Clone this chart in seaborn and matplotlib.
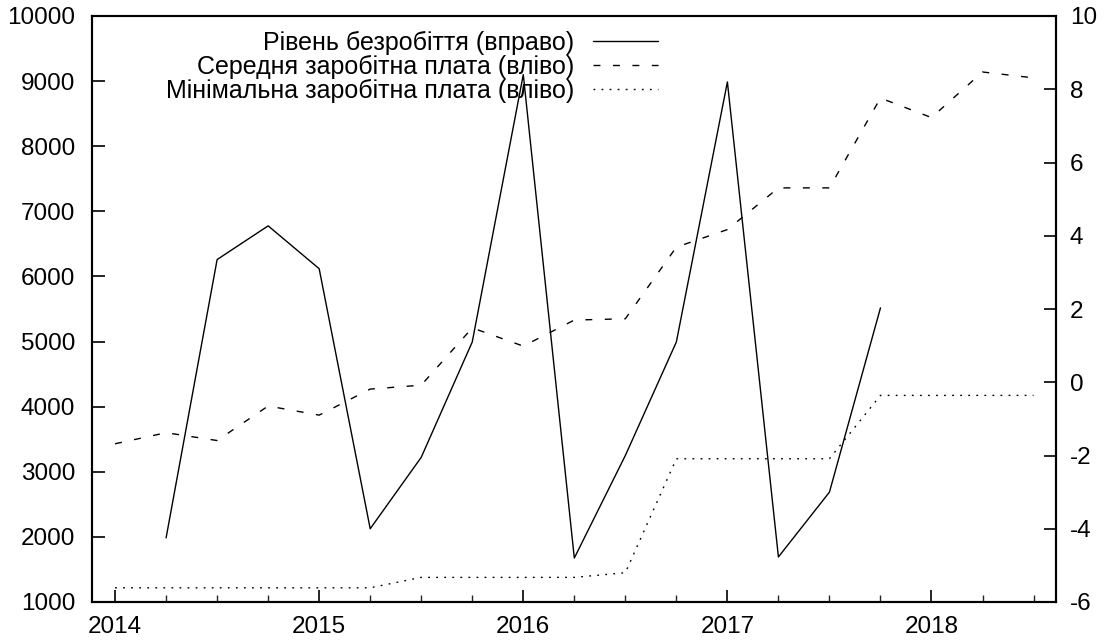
import numpy as np
import pandas as pd
import matplotlib
matplotlib.use("Agg")
import matplotlib.pyplot as plt
from matplotlib.ticker import MultipleLocator
import seaborn as sns

# quarterly observations, as decimal years
wage_dates = [2014.0, 2014.25, 2014.5, 2014.75, 2015.0, 2015.25, 2015.5, 2015.75,
              2016.0, 2016.25, 2016.5, 2016.75, 2017.0, 2017.25, 2017.5, 2017.75,
              2018.0, 2018.25, 2018.5]
avg_wage = [3430, 3600, 3480, 4010, 3870, 4270, 4330, 5210,
            4930, 5330, 5350, 6450, 6720, 7360, 7360, 8740,
            8440, 9140, 9050]
min_wage = [1218, 1218, 1218, 1218, 1218, 1218, 1378, 1378,
            1378, 1378, 1450, 3200, 3200, 3200, 3200, 4173,
            4173, 4173, 4173]

unemp_dates = [2014.25, 2014.5, 2014.75, 2015.0, 2015.25, 2015.5, 2015.75,
               2016.0, 2016.25, 2016.5, 2016.75, 2017.0, 2017.25, 2017.5, 2017.75]
unemployment = [-4.25, 3.35, 4.27, 3.1, -4.0, -2.05, 1.1,
                8.4, -4.8, -2.0, 1.1, 8.2, -4.77, -3.0, 2.03]

year_ticks = [2014, 2015, 2016, 2017, 2018]
year_labels = ["2014", "2015", "2016", "2017", "2018"]

labels = ["Рівень безробіття (вправо)",
          "Середня заробітна плата (вліво)",
          "Мінімальна заробітна плата (вліво)"]

sns.set_theme(style="white")
plt.rcParams['font.family'] = ['Liberation Sans', 'DejaVu Sans']
plt.rcParams['axes.unicode_minus'] = False
plt.rcParams['text.color'] = 'black'

fs = 17.5

fig = plt.figure(figsize=(11.1, 6.43), dpi=100)
ax = fig.add_axes([92 / 1110, 1 - 602 / 643, (1056 - 92) / 1110, (602 - 16) / 643])
ax2 = ax.twinx()

lw = 1.0
sns.lineplot(x=wage_dates, y=avg_wage, ax=ax, color="black", linewidth=lw,
             linestyle=(0, (5, 9)), label=labels[1])
sns.lineplot(x=wage_dates, y=min_wage, ax=ax, color="black", linewidth=lw,
             linestyle=(0, (1.3, 4.5)), label=labels[2])
sns.lineplot(x=unemp_dates, y=unemployment, ax=ax2, color="black", linewidth=lw,
             linestyle="-", label=labels[0])

for a in (ax, ax2):
    if a.get_legend() is not None:
        a.get_legend().remove()

ax.set_xlim(2013.887, 2018.61)
ax.set_ylim(1000, 10000)
ax2.set_ylim(-6, 10)
ax.set_yticks(range(1000, 10001, 1000))
ax2.set_yticks(range(-6, 11, 2))
ax.set_xticks(year_ticks)
ax.set_xticklabels(year_labels)
ax.xaxis.set_minor_locator(MultipleLocator(0.25))

ax.tick_params(axis="x", which="major", direction="in", length=9, width=1.2,
               top=False, bottom=True, pad=10, labelsize=fs, colors="black")
ax.tick_params(axis="x", which="minor", direction="in", length=5, width=1.0,
               top=False, bottom=True)
ax.tick_params(axis="y", direction="in", length=9, width=1.2, left=True,
               right=False, pad=12, labelsize=fs, colors="black")
ax2.tick_params(axis="y", direction="in", length=9, width=1.2, right=True,
                left=False, pad=10, labelsize=fs, colors="black")
ax.set_xlabel("")
ax.set_ylabel("")
ax2.set_ylabel("")

for a in (ax, ax2):
    for s in a.spines.values():
        s.set_color("black")
        s.set_linewidth(1.5)

h1, l1 = ax.get_legend_handles_labels()
h2, l2 = ax2.get_legend_handles_labels()
leg = ax2.legend(h2 + h1, l2 + l1, loc="upper right",
                 bbox_to_anchor=((658 - 92) / 964, 0.975),
                 frameon=False, markerfirst=False, fontsize=18,
                 handlelength=2.6, handletextpad=0.75, labelspacing=0.0,
                 borderaxespad=0, borderpad=0)
for t in leg.get_texts():
    t.set_color("black")

fig.savefig("out.png", dpi=100, facecolor="white")
